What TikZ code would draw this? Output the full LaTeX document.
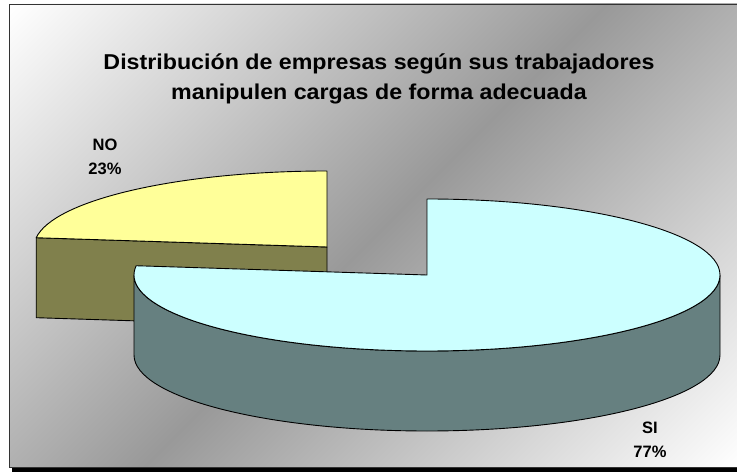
\documentclass[tikz,border=0pt]{standalone}
\usepackage{fontspec}
\setmainfont{Liberation Sans}
\newfontfamily\titlefont[FakeStretch=1.08]{Liberation Sans}
\usetikzlibrary{positioning, calc}
\definecolor{yellowtop}{HTML}{FFFF99}
\definecolor{yellowside}{HTML}{80804C}
\definecolor{cyantop}{HTML}{CCFFFF}
\definecolor{cyanside}{HTML}{668080}
\definecolor{bggray}{HTML}{999999}
\pgfdeclareverticalshading{chartbg}{100bp}{color(0bp)=(white); color(14.6bp)=(white); color(50bp)=(bggray); color(85.4bp)=(white); color(100bp)=(white)}
\tikzstyle{slice} = [draw=black, line width=0.9pt, line join=round]
\tikzstyle{titletext} = [align=center, inner sep=0pt, font=\titlefont\fontsize{21.5}{30}\selectfont\bfseries]
\tikzstyle{pielabel} = [align=center, inner sep=0pt, font=\fontsize{16.5}{24}\selectfont\bfseries]
\def\rx{293}
\def\ry{76}
\def\depth{80}

\begin{document}
\begin{tikzpicture}[x=1pt, y=-1pt]
  \useasboundingbox (0,0) rectangle (737,473);
  % chart area and its shadow
  \fill[black] (12,8) rectangle (745,471.5);
  \draw[draw=black!80, shading=chartbg, shading angle=45] (9,4) rectangle (742,467);

  \coordinate (sicenter) at (427,275);
  \coordinate (nocenter) at (327,247);

  % NO slice (pulled out)
  \filldraw[slice, fill=yellowside] (nocenter) -- ++(-290.8,-9.3) -- ++(0,\depth) -- ++(290.8,9.3) -- cycle;
  \filldraw[slice, fill=yellowtop] (nocenter) -- ++(0,-\ry) arc[start angle=-90, end angle=-173, x radius=\rx, y radius=\ry] -- cycle;

  % SI slice
  \filldraw[slice, fill=cyanside] ($(sicenter)+(\rx,0)$) arc[start angle=0, end angle=180, x radius=\rx, y radius=\ry] -- ++(0,\depth) arc[start angle=180, end angle=0, x radius=\rx, y radius=\ry] -- cycle;
  \filldraw[slice, fill=cyantop] (sicenter) -- ++(0,-\ry) arc[start angle=-90, end angle=187, x radius=\rx, y radius=\ry] -- cycle;

  \node (title) [titletext] at (379,79) {Distribución de empresas según sus trabajadores\\manipulen cargas de forma adecuada};
  \node (nolabel) [pielabel] at (105,157) {NO\\23\%};
  \node (silabel) [pielabel] at (650,440) {SI\\77\%};
\end{tikzpicture}
\end{document}
